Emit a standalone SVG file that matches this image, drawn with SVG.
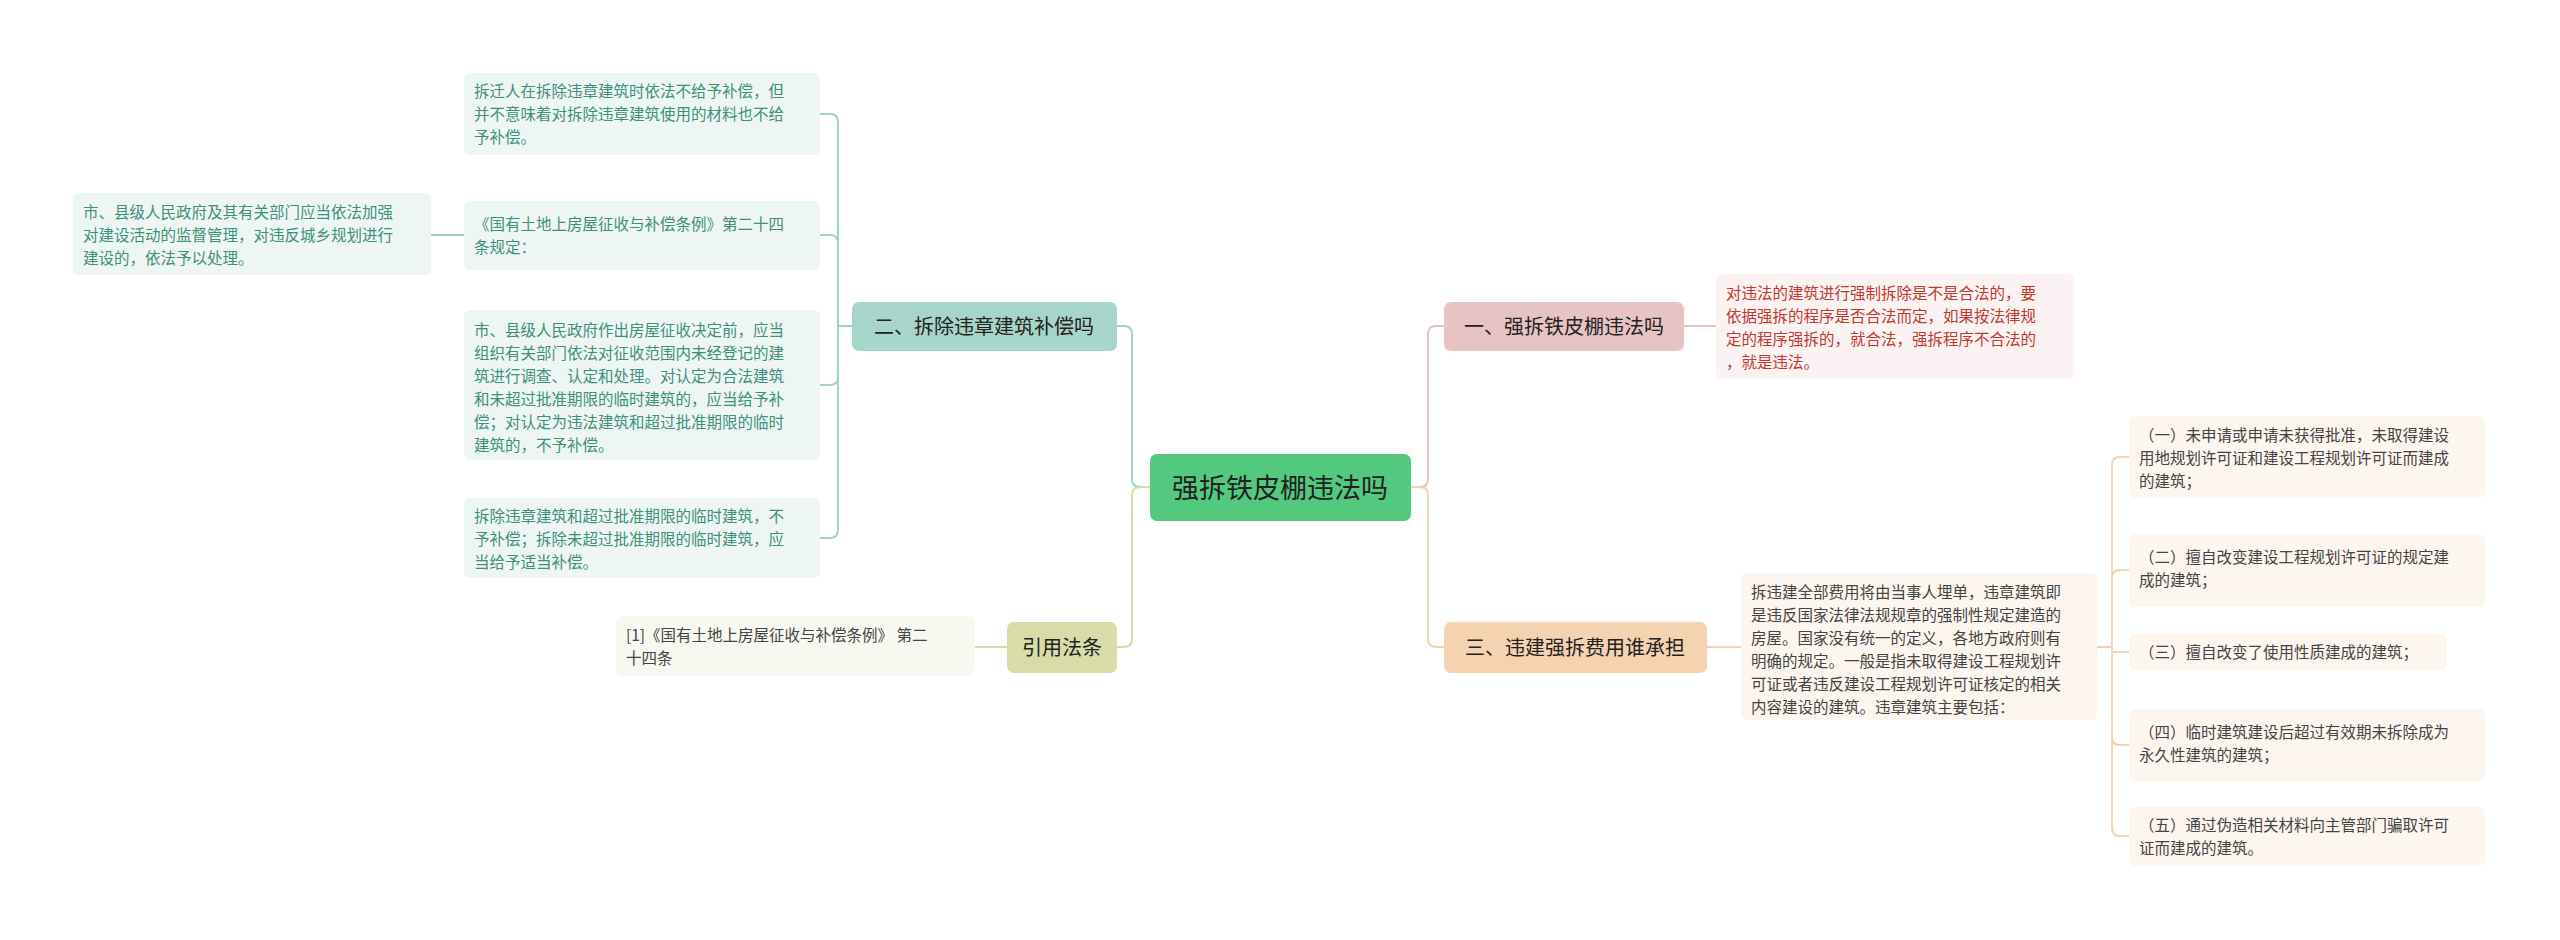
<svg xmlns="http://www.w3.org/2000/svg" width="2560" height="940" viewBox="0 0 2560 940">
<style>
text{font-family:"Noto Sans CJK SC","Liberation Sans",sans-serif;}
.lf{font-size:15.5px;}
.g{fill:#3f8f7c}.r{fill:#c0392b}.d{fill:#444}
.c{fill:none;stroke-width:2}
</style>
<rect width="2560" height="940" fill="#fff"/>
<g id="connectors">
<path class="c" stroke="#a3d3c7" d="M1150 487 H1140 Q1132 487 1132 479 V334 Q1132 326 1124 326 H1117"/>
<path class="c" stroke="#d7dcab" d="M1150 487 H1140 Q1132 487 1132 495 V639 Q1132 647 1124 647 H1117"/>
<path class="c" stroke="#e8c3c3" d="M1411 487 H1420 Q1428 487 1428 479 V334 Q1428 326 1436 326 H1444"/>
<path class="c" stroke="#f3d3b3" d="M1411 487 H1420 Q1428 487 1428 495 V639 Q1428 647 1436 647 H1444"/>
<g stroke="#a3d3c7" class="c">
<path class="c" d="M852 326 H838 V122 Q838 114 830 114 H820"/>
<path class="c" d="M838 326 V243 Q838 235 830 235 H820"/>
<path class="c" d="M838 326 V377 Q838 385 830 385 H820"/>
<path class="c" d="M838 326 V530 Q838 538 830 538 H820"/>
<path class="c" d="M464 235 H431"/>
</g>
<path class="c" stroke="#d7dcab" d="M1007 647 H975"/>
<path class="c" stroke="#e8c3c3" d="M1684 326 H1716"/>
<path class="c" stroke="#f3d3b3" d="M1707 647 H1741"/>
<g stroke="#f3d3b3" class="c">
<path class="c" d="M2097 647 H2112 V465 Q2112 457 2120 457 H2129"/>
<path class="c" d="M2112 647 V578 Q2112 570 2120 570 H2129"/>
<path class="c" d="M2112 647 V652 H2129"/>
<path class="c" d="M2112 647 V737 Q2112 745 2120 745 H2129"/>
<path class="c" d="M2112 647 V828 Q2112 836 2120 836 H2129"/>
</g>
</g>
<g id="center"><rect x="1150" y="454" width="261" height="67" rx="7" fill="#52c97f"/><text x="1280" y="498" font-size="27" text-anchor="middle" fill="#222">强拆铁皮棚违法吗</text></g>
<g id="b2"><rect x="852" y="302" width="265" height="49" rx="7" fill="#a8d5c9"/><text x="984" y="334" font-size="20" text-anchor="middle" fill="#222">二、拆除违章建筑补偿吗</text></g>
<g id="bref"><rect x="1007" y="622" width="110" height="51" rx="7" fill="#d8dca8"/><text x="1062" y="655" font-size="20" text-anchor="middle" fill="#222">引用法条</text></g>
<g id="b1"><rect x="1444" y="302" width="240" height="49" rx="7" fill="#e8c3c3"/><text x="1564" y="334" font-size="20" text-anchor="middle" fill="#222">一、强拆铁皮棚违法吗</text></g>
<g id="b3"><rect x="1444" y="622" width="263" height="51" rx="7" fill="#f6d3b0"/><text x="1575" y="655" font-size="20" text-anchor="middle" fill="#222">三、违建强拆费用谁承担</text></g>
<g id="l1"><rect x="464" y="73" width="356" height="82" rx="6" fill="#eef6f4"/><text class="lf g" x="474" y="97"><tspan x="474">拆迁人在拆除违章建筑时依法不给予补偿，但</tspan><tspan x="474" dy="23">并不意味着对拆除违章建筑使用的材料也不给</tspan><tspan x="474" dy="23">予补偿。</tspan></text></g>
<g id="l2"><rect x="464" y="201" width="356" height="69" rx="6" fill="#eef6f4"/><text class="lf g" x="474" y="230"><tspan x="474">《国有土地上房屋征收与补偿条例》第二十四</tspan><tspan x="474" dy="23">条规定：</tspan></text></g>
<g id="l2c"><rect x="73" y="193" width="358" height="82" rx="6" fill="#eef6f4"/><text class="lf g" x="83" y="218"><tspan x="83">市、县级人民政府及其有关部门应当依法加强</tspan><tspan x="83" dy="23">对建设活动的监督管理，对违反城乡规划进行</tspan><tspan x="83" dy="23">建设的，依法予以处理。</tspan></text></g>
<g id="l3"><rect x="464" y="310" width="356" height="150" rx="6" fill="#eef6f4"/><text class="lf g" x="474" y="336"><tspan x="474">市、县级人民政府作出房屋征收决定前，应当</tspan><tspan x="474" dy="23">组织有关部门依法对征收范围内未经登记的建</tspan><tspan x="474" dy="23">筑进行调查、认定和处理。对认定为合法建筑</tspan><tspan x="474" dy="23">和未超过批准期限的临时建筑的，应当给予补</tspan><tspan x="474" dy="23">偿；对认定为违法建筑和超过批准期限的临时</tspan><tspan x="474" dy="23">建筑的，不予补偿。</tspan></text></g>
<g id="l4"><rect x="464" y="498" width="356" height="80" rx="6" fill="#eef6f4"/><text class="lf g" x="474" y="522"><tspan x="474">拆除违章建筑和超过批准期限的临时建筑，不</tspan><tspan x="474" dy="23">予补偿；拆除未超过批准期限的临时建筑，应</tspan><tspan x="474" dy="23">当给予适当补偿。</tspan></text></g>
<g id="refc"><rect x="616" y="616" width="359" height="60" rx="6" fill="#f7f8ef"/><text class="lf d" x="626" y="641"><tspan x="626">[1]《国有土地上房屋征收与补偿条例》 第二</tspan><tspan x="626" dy="23">十四条</tspan></text></g>
<g id="r1c"><rect x="1716" y="274" width="358" height="105" rx="6" fill="#fbf3f3"/><text class="lf r" x="1726" y="299"><tspan x="1726">对违法的建筑进行强制拆除是不是合法的，要</tspan><tspan x="1726" dy="23">依据强拆的程序是否合法而定，如果按法律规</tspan><tspan x="1726" dy="23">定的程序强拆的，就合法，强拆程序不合法的</tspan><tspan x="1726" dy="23">，就是违法。</tspan></text></g>
<g id="r3c"><rect x="1741" y="573" width="356" height="147" rx="6" fill="#fdf6ef"/><text class="lf d" x="1751" y="598"><tspan x="1751">拆违建全部费用将由当事人埋单，违章建筑即</tspan><tspan x="1751" dy="23">是违反国家法律法规规章的强制性规定建造的</tspan><tspan x="1751" dy="23">房屋。国家没有统一的定义，各地方政府则有</tspan><tspan x="1751" dy="23">明确的规定。一般是指未取得建设工程规划许</tspan><tspan x="1751" dy="23">可证或者违反建设工程规划许可证核定的相关</tspan><tspan x="1751" dy="23">内容建设的建筑。违章建筑主要包括：</tspan></text></g>
<g id="s1"><rect x="2129" y="416" width="356" height="82" rx="6" fill="#fdf6ef"/><text class="lf d" x="2139" y="441"><tspan x="2139">（一）未申请或申请未获得批准，未取得建设</tspan><tspan x="2139" dy="23">用地规划许可证和建设工程规划许可证而建成</tspan><tspan x="2139" dy="23">的建筑；</tspan></text></g>
<g id="s2"><rect x="2129" y="534" width="356" height="73" rx="6" fill="#fdf6ef"/><text class="lf d" x="2139" y="563"><tspan x="2139">（二）擅自改变建设工程规划许可证的规定建</tspan><tspan x="2139" dy="23">成的建筑；</tspan></text></g>
<g id="s3"><rect x="2129" y="634" width="318" height="36" rx="6" fill="#fdf6ef"/><text class="lf d" x="2139" y="658">（三）擅自改变了使用性质建成的建筑；</text></g>
<g id="s4"><rect x="2129" y="709" width="356" height="72" rx="6" fill="#fdf6ef"/><text class="lf d" x="2139" y="738"><tspan x="2139">（四）临时建筑建设后超过有效期未拆除成为</tspan><tspan x="2139" dy="23">永久性建筑的建筑；</tspan></text></g>
<g id="s5"><rect x="2129" y="807" width="356" height="59" rx="6" fill="#fdf6ef"/><text class="lf d" x="2139" y="831"><tspan x="2139">（五）通过伪造相关材料向主管部门骗取许可</tspan><tspan x="2139" dy="23">证而建成的建筑。</tspan></text></g>
</svg>
